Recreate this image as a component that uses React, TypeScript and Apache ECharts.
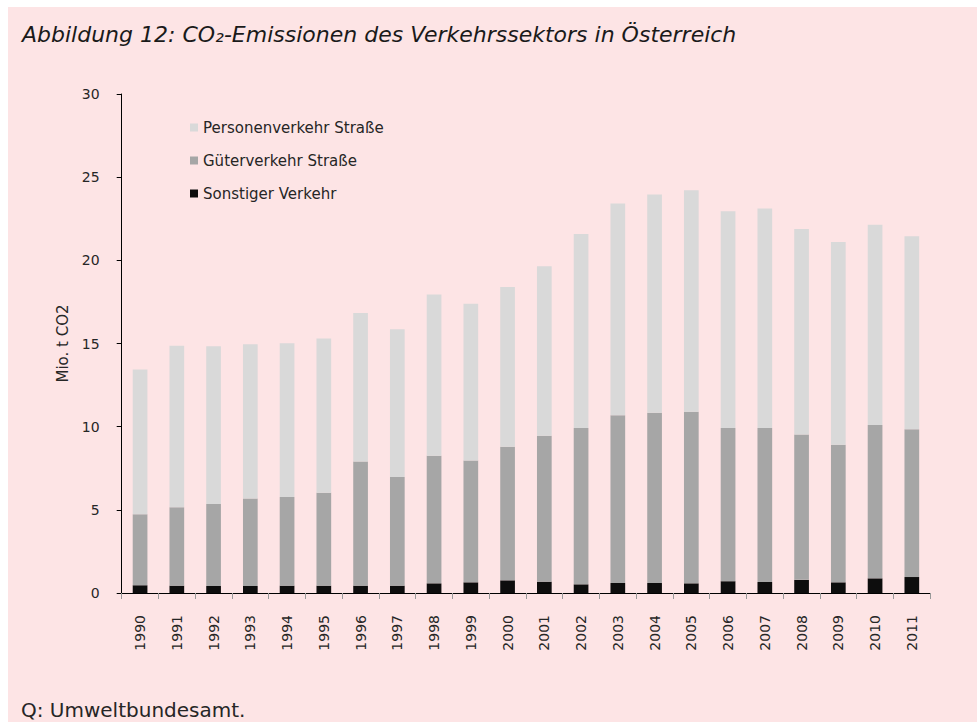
import React, { useEffect, useRef } from "react";
import * as echarts from "echarts";

const years = ["1990","1991","1992","1993","1994","1995","1996","1997","1998","1999","2000","2001","2002","2003","2004","2005","2006","2007","2008","2009","2010","2011"];
const sonstiger = [0.46,0.44,0.42,0.42,0.44,0.44,0.44,0.44,0.58,0.64,0.76,0.68,0.52,0.60,0.60,0.58,0.71,0.66,0.79,0.64,0.88,0.96];
const gueter = [4.28,4.72,4.93,5.26,5.33,5.58,7.46,6.53,7.67,7.33,8.04,8.77,9.40,10.09,10.23,10.31,9.21,9.26,8.74,8.28,9.22,8.88];
const personen = [8.69,9.71,9.48,9.27,9.24,9.28,8.94,8.89,9.69,9.42,9.60,10.19,11.67,12.73,13.13,13.32,13.03,13.19,12.35,12.18,12.04,11.61];
const yTicks = [0, 5, 10, 15, 20, 25, 30];

const FONT = "DejaVu Sans";
const TXT = "#262626";

export default function App() {
  const ref = useRef<HTMLDivElement>(null);
  useEffect(() => {
    if (!ref.current) return;
    const chart = echarts.init(ref.current, undefined, { renderer: "svg" });
    chart.setOption({
      animation: false,
      backgroundColor: "#fde4e5",
      textStyle: { fontFamily: FONT },
      title: {
        text: "Abbildung 12: CO₂-Emissionen des Verkehrssektors in Österreich",
        left: 9,
        top: 11,
        textStyle: { fontFamily: FONT, fontStyle: "italic", fontWeight: "normal", fontSize: 22, color: "#1a1a1a" },
      },
      graphic: [
        {
          type: "text",
          left: 13,
          top: 693,
          style: { text: "Q: Umweltbundesamt.", font: `20px "${FONT}"`, fill: TXT },
        },
      ],
      legend: {
        orient: "vertical",
        left: 177,
        top: 108,
        itemWidth: 8,
        itemHeight: 8,
        itemGap: 18,
        icon: "rect",
        data: ["Personenverkehr Straße", "Güterverkehr Straße", "Sonstiger Verkehr"],
        textStyle: { fontFamily: FONT, fontSize: 15, color: TXT },
      },
      grid: { left: 113.7, top: 87, width: 808.5, height: 499, containLabel: false },
      xAxis: {
        type: "category",
        data: years,
        axisLine: { lineStyle: { color: "#000", width: 1 } },
        axisTick: { show: true, length: 6, lineStyle: { color: "#999" } },
        axisLabel: { rotate: 90, margin: 22, fontFamily: FONT, fontSize: 14, color: TXT },
      },
      yAxis: {
        type: "value",
        min: 0,
        max: 30,
        interval: 5,
        name: "Mio. t CO2",
        nameLocation: "middle",
        nameGap: 48,
        nameTextStyle: { fontFamily: FONT, fontSize: 15, color: TXT },
        axisLine: { show: true, lineStyle: { color: "#000", width: 1 } },
        axisTick: { show: true, length: 5, lineStyle: { color: "#000" } },
        splitLine: { show: false },
        axisLabel: {
          margin: 22,
          fontFamily: FONT,
          fontSize: 14,
          color: TXT,
          formatter: (v: number) => (yTicks.includes(v) ? String(v) : ""),
        },
      },
      series: [
        { name: "Sonstiger Verkehr", type: "bar", stack: "a", barWidth: "40%", data: sonstiger, itemStyle: { color: "#0d0d0d" } },
        { name: "Güterverkehr Straße", type: "bar", stack: "a", barWidth: "40%", data: gueter, itemStyle: { color: "#a6a6a6" } },
        { name: "Personenverkehr Straße", type: "bar", stack: "a", barWidth: "40%", data: personen, itemStyle: { color: "#d9d9d9" } },
      ],
    });
    return () => chart.dispose();
  }, []);
  return (
    <div
      ref={ref}
      style={{ position: "fixed", left: 8, top: 7, right: 0, bottom: 0 }}
    />
  );
}
